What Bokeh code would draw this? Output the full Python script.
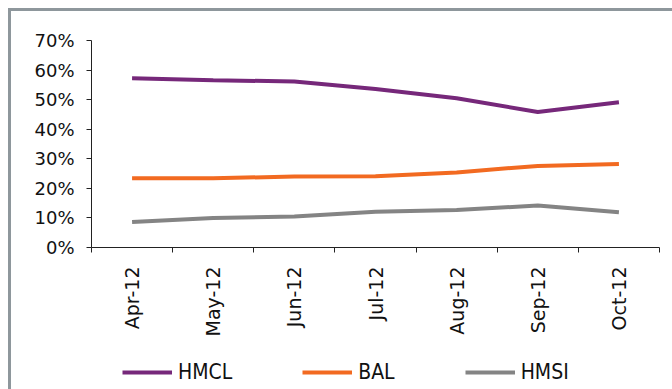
from bokeh.plotting import figure
from bokeh.layouts import column
from bokeh.models import (FixedTicker, NumeralTickFormatter, Range1d, Legend, LegendItem)
from bokeh.embed import file_html
from bokeh.resources import INLINE
import math

months = ["Apr-12", "May-12", "Jun-12", "Jul-12", "Aug-12", "Sep-12", "Oct-12"]
series_names = ["HMCL", "BAL", "HMSI"]
hmcl = [0.572, 0.566, 0.561, 0.536, 0.505, 0.458, 0.491]
bal = [0.234, 0.234, 0.240, 0.241, 0.254, 0.276, 0.282]
hmsi = [0.086, 0.100, 0.105, 0.121, 0.127, 0.142, 0.119]
y_ticks = [0, 0.1, 0.2, 0.3, 0.4, 0.5, 0.6, 0.7]
colors = ["#76287A", "#F26A21", "#848484"]

x = [i + 0.5 for i in range(len(months))]

p = figure(width=661, height=328, output_backend="svg", toolbar_location=None,
           x_range=Range1d(0, len(months)), y_range=Range1d(0, 0.7))
p.min_border_left = 80
p.min_border_right = 13
p.min_border_top = 29
p.min_border_bottom = 89
p.outline_line_color = None
p.xgrid.visible = False
p.ygrid.visible = False
p.background_fill_color = "white"
p.border_fill_color = "white"

font = "DejaVu Sans"
# y axis
p.yaxis.ticker = FixedTicker(ticks=y_ticks)
p.yaxis.formatter = NumeralTickFormatter(format="0%")
p.yaxis.major_tick_in = 0
p.yaxis.major_tick_out = 5
p.yaxis.minor_tick_line_color = None
p.yaxis.major_label_text_font = font
p.yaxis.major_label_text_font_size = "18px"
p.yaxis.major_label_text_color = "#111111"
p.yaxis.major_label_standoff = 12
p.yaxis.axis_line_color = "#222222"
p.yaxis.major_tick_line_color = "#222222"

# x axis: labels at centers, ticks at boundaries
p.xaxis.ticker = FixedTicker(ticks=x, minor_ticks=list(range(len(months) + 1)))
p.xaxis.major_label_overrides = {xv: m for xv, m in zip(x, months)}
p.xaxis.major_tick_in = 0
p.xaxis.major_tick_out = 0
p.xaxis.minor_tick_in = 0
p.xaxis.minor_tick_out = 5
p.xaxis.minor_tick_line_color = "#222222"
p.xaxis.axis_line_color = "#222222"
p.xaxis.major_label_orientation = math.pi / 2
p.xaxis.major_label_text_font = font
p.xaxis.major_label_text_font_size = "19px"
p.xaxis.major_label_text_color = "#111111"
p.xaxis.major_label_standoff = 14

series = [hmcl, bal, hmsi]
for vals, c in zip(series, colors):
    p.line(x, vals, line_color=c, line_width=4)

# legend strip below the chart (series drawn out of view, only the legend shows)
p2 = figure(width=661, height=50, output_backend="svg", toolbar_location=None,
            x_range=Range1d(0, len(months)), y_range=Range1d(5, 6))
p2.axis.visible = False
p2.grid.visible = False
p2.outline_line_color = None
p2.min_border = 0
items = []
for name, vals, c in zip(series_names, series, colors):
    r = p2.line(x, vals, line_color=c, line_width=4)
    items.append(LegendItem(label=name, renderers=[r]))
legend = Legend(items=items, orientation="horizontal", location=(31, 5))
legend.border_line_color = None
legend.background_fill_alpha = 0
legend.label_text_font = "DejaVu Sans Condensed"
legend.label_text_font_size = "21px"
legend.label_text_color = "#111111"
legend.glyph_width = 50
legend.glyph_height = 20
legend.label_height = 20
legend.label_standoff = 6
legend.spacing = 70
legend.padding = 0
legend.margin = 0
p2.add_layout(legend)

layout = column(p, p2, margin=(8, 0, 0, 8), spacing=0,
                styles={"border-top": "3px solid #8E979C",
                        "border-left": "3px solid #8E979C"})

open("out.html", "w").write(file_html(layout, INLINE))
